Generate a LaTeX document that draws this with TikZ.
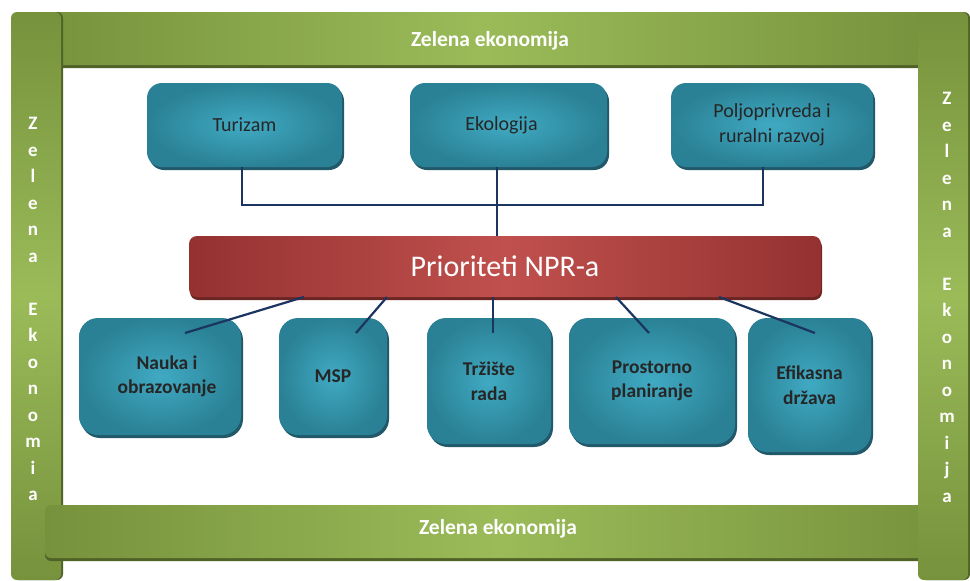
\documentclass[tikz,border=0pt]{standalone}
\usepackage{fontspec}
\setmainfont{Carlito}
\usetikzlibrary{shadows}
\definecolor{tealedge}{HTML}{2A8195}
\definecolor{tealmid}{HTML}{40AAC3}
\definecolor{tealshadow}{HTML}{21596A}
\definecolor{rededge}{HTML}{943231}
\definecolor{redmid}{HTML}{C0504D}
\definecolor{redshadow}{HTML}{6B2523}
\definecolor{grnedge}{HTML}{76923C}
\definecolor{grnmid}{HTML}{9BBB59}
\definecolor{grnshadow}{HTML}{4F6228}
\definecolor{navy}{HTML}{1B3560}
\definecolor{boxtext}{HTML}{262626}
\begin{document}
\begin{tikzpicture}[x=1pt,y=-1pt,
 tealbox/.style={rounded corners=15pt, inner color=tealmid, outer color=tealedge, draw=none,
   drop shadow={shadow xshift=2pt, shadow yshift=-3pt, fill=tealshadow, opacity=1},
   text=boxtext, align=center, inner sep=0pt},
 topbox/.style={tealbox, font=\fontsize{20}{25}\selectfont},
 botbox/.style={tealbox, rounded corners=19pt, font=\bfseries\fontsize{19.5}{24.5}\selectfont},
 redbar/.style={rounded corners=8pt, left color=rededge, right color=rededge, middle color=redmid,
   drop shadow={shadow xshift=1pt, shadow yshift=-3pt, fill=redshadow, opacity=1},
   text=white, inner sep=0pt, font=\fontsize{30}{34}\selectfont},
 hbar/.style={rounded corners=6pt, left color=grnedge, right color=grnedge, middle color=grnmid,
   drop shadow={shadow xshift=0pt, shadow yshift=-3pt, fill=grnshadow, opacity=1}, inner sep=0pt},
 vbar/.style={rounded corners=6pt, top color=grnedge, bottom color=grnedge, middle color=grnmid,
   drop shadow={shadow xshift=2pt, shadow yshift=0pt, fill=grnshadow, opacity=1}, inner sep=0pt},
 bartext/.style={text=white, font=\bfseries\fontsize{21.5}{24}\selectfont, inner sep=0pt},
 vtext/.style={text=white, align=center, inner sep=0pt, anchor=north,
   font=\bfseries\fontsize{19}{26.5}\selectfont},
 conn/.style={draw=navy, line width=2.2pt}
]
\useasboundingbox[fill=white] (0,0) rectangle (970,581);

% frame bars
\node[hbar, minimum width=900pt, minimum height=53pt] (topbar) at (485,38.5) {};
\node[vbar, minimum width=50pt, minimum height=568pt] (leftbar) at (36,296) {};
\node[hbar, minimum width=906pt, minimum height=53pt] (botbar) at (498,531.5) {};
\node[vbar, minimum width=50pt, minimum height=568pt] (rightbar) at (943,296) {};

% top boxes
\node[topbox, minimum width=195pt, minimum height=84pt] (t1) at (244.5,125) {Turizam};
\node[topbox, minimum width=197pt, minimum height=84pt] (t2) at (508.5,125) {\hspace*{-14pt}Ekologija};
\node[topbox, minimum width=202pt, minimum height=84pt] (t3) at (772,125) {Poljoprivreda i\\ruralni razvoj};

% red bar
\node[redbar, minimum width=632pt, minimum height=61pt] (pr) at (505,266.5) {Prioriteti NPR-a};

% bottom boxes
\node[botbox, minimum width=162pt, minimum height=117pt] (b1) at (160,376.5) {\hspace*{14pt}Nauka i\\\hspace*{14pt}obrazovanje};
\node[botbox, minimum width=108pt, minimum height=117pt] (b2) at (333,376.5) {MSP};
\node[botbox, minimum width=124pt, minimum height=126pt] (b3) at (489,381) {Tržište\\rada};
\node[botbox, minimum width=166pt, minimum height=126pt] (b4) at (652,381) {Prostorno\\planiranje};
\node[botbox, minimum width=123pt, minimum height=134pt] (b5) at (809.5,385) {Efikasna\\država};

% connectors top
\coordinate (hl) at (242,205);
\coordinate (hm) at (497,205);
\coordinate (hr) at (763,205);
\draw[conn] (hl |- t1.south) -- (hl) -- (hr) -- (hr |- t3.south);
\draw[conn] (hm |- t2.south) -- (hm |- pr.north);

% connectors bottom
\coordinate (a1) at (304,297);
\coordinate (a2) at (387,297);
\coordinate (a3) at (493,297);
\coordinate (a4) at (616,297);
\coordinate (a5) at (719,297);
\coordinate (e1) at (185,333);
\coordinate (e2) at (356,333);
\coordinate (e3) at (493,333);
\coordinate (e4) at (649,333);
\coordinate (e5) at (815,333);
\draw[conn] (a1) -- (e1);
\draw[conn] (a2) -- (e2);
\draw[conn] (a3) -- (e3);
\draw[conn] (a4) -- (e4);
\draw[conn] (a5) -- (e5);

% bar texts
\node[bartext] (toptext) at (490,41) {Zelena ekonomija};
\node[bartext] (bottext) at (498,529) {Zelena ekonomija};
\node[vtext] (lefttext) at (33,117)
  {Z\\e\\l\\e\\n\\a\\[26.5pt]E\\k\\o\\n\\o\\m\\i\\a};
\node[vtext] (righttext) at (947,92)
  {Z\\e\\l\\e\\n\\a\\[26.5pt]E\\k\\o\\n\\o\\m\\i\\j\\a};
\end{tikzpicture}
\end{document}
